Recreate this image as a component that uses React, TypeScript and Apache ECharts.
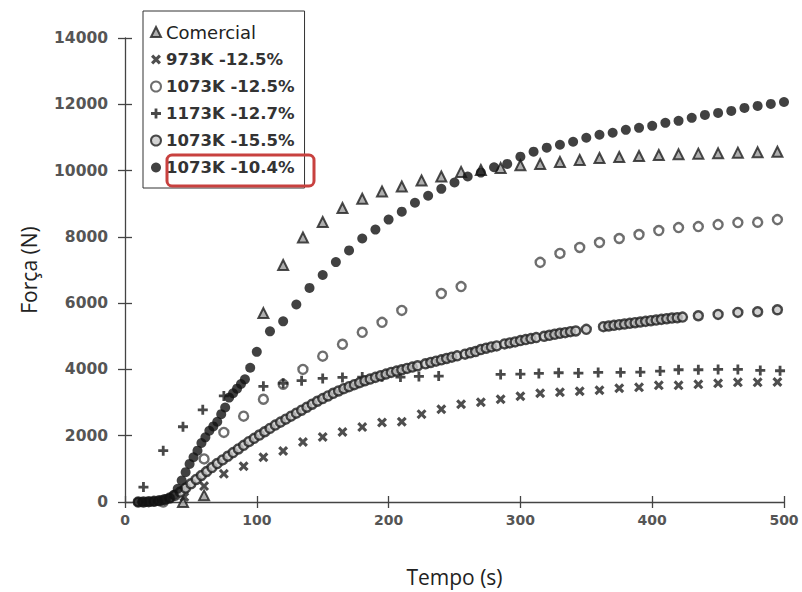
import React, { useEffect, useRef } from "react";
import * as echarts from "echarts";

const seriesNames = [
  "Comercial",
  "973K -12.5%",
  "1073K -12.5%",
  "1173K -12.7%",
  "1073K -15.5%",
  "1073K -10.4%",
];

const xTicks = { min: 0, max: 500, interval: 100 };
const yTicks = { min: 0, max: 14000, interval: 2000 };

const comercial: number[][] = [
  [44, 0], [60, 200], [105, 5700], [120, 7150], [135, 7980], [150, 8450], [165, 8870],
  [180, 9150], [195, 9370], [210, 9520], [225, 9700], [240, 9820], [255, 9960],
  [270, 10020], [285, 10080], [300, 10160], [315, 10200], [330, 10260], [345, 10320],
  [360, 10380], [375, 10410], [390, 10440], [405, 10470], [420, 10490], [435, 10510],
  [450, 10520], [465, 10540], [480, 10550], [495, 10570],
];

const k973_125: number[][] = [
  [45, 150], [60, 480], [75, 850], [90, 1080], [105, 1350], [120, 1540], [135, 1810],
  [150, 1960], [165, 2110], [180, 2260], [195, 2400], [210, 2420], [225, 2650],
  [240, 2800], [255, 2950], [270, 3010], [285, 3100], [300, 3190], [315, 3280],
  [330, 3310], [345, 3340], [360, 3370], [375, 3430], [390, 3460], [405, 3520],
  [420, 3520], [435, 3550], [450, 3580], [465, 3610], [480, 3610], [495, 3620],
];

const k1073_125: number[][] = [
  [29, 0], [44, 330], [60, 1300], [75, 2100], [90, 2590], [105, 3100], [120, 3550],
  [135, 4000], [150, 4400], [165, 4760], [180, 5120], [195, 5420], [210, 5780],
  [240, 6290], [255, 6500], [315, 7230], [330, 7500], [345, 7680], [360, 7830],
  [375, 7950], [390, 8070], [405, 8190], [420, 8280], [435, 8310], [450, 8370],
  [465, 8430], [480, 8440], [495, 8520],
];

const k1173_127: number[][] = [
  [14, 450], [29, 1550], [44, 2270], [59, 2780], [75, 3200], [105, 3490], [120, 3580],
  [134, 3660], [150, 3730], [165, 3760], [180, 3770], [195, 3780], [209, 3770],
  [223, 3790], [238, 3800], [285, 3850], [300, 3860], [314, 3880], [329, 3900],
  [344, 3890], [359, 3910], [376, 3910], [391, 3920], [406, 3950], [420, 3990],
  [435, 3990], [450, 4000], [465, 4000], [482, 3970], [497, 3960],
];

const k1073_155: number[][] = [
  [10, 0], [14, 0], [18, 10], [22, 20], [26, 40], [30, 70], [34, 120], [38, 200],
  [42, 300], [46, 420], [50, 550], [54, 680], [58, 800], [62, 920], [66, 1040],
  [70, 1160], [74, 1270], [78, 1380], [82, 1490], [86, 1600], [90, 1710], [94, 1820],
  [98, 1920], [102, 2020], [106, 2120], [110, 2220], [114, 2320], [118, 2410],
  [122, 2500], [126, 2590], [130, 2680], [134, 2770], [138, 2860], [142, 2950],
  [146, 3040], [150, 3120], [154, 3200], [158, 3280], [162, 3350], [166, 3420],
  [170, 3480], [174, 3540], [178, 3600], [182, 3660], [186, 3710], [190, 3760],
  [194, 3810], [198, 3860], [202, 3910], [206, 3950], [210, 3990], [214, 4030],
  [218, 4070], [222, 4110], [228, 4170], [232, 4210], [236, 4250], [240, 4290],
  [244, 4330], [248, 4370], [252, 4410], [258, 4460], [262, 4500], [266, 4540],
  [270, 4600], [274, 4640], [278, 4680], [282, 4710], [288, 4770], [292, 4800],
  [296, 4830], [300, 4870], [304, 4900], [308, 4930], [312, 4960], [318, 5000],
  [322, 5030], [326, 5060], [330, 5090], [334, 5110], [338, 5140], [342, 5160],
  [350, 5210], [363, 5290], [367, 5310], [371, 5330], [375, 5350], [379, 5370],
  [383, 5390], [387, 5410], [391, 5430], [395, 5450], [399, 5470], [403, 5490],
  [407, 5510], [411, 5530], [415, 5550], [419, 5560], [423, 5580], [435, 5620],
  [450, 5660], [465, 5720], [480, 5740], [495, 5800],
];

const k1073_104: number[][] = [
  [10, 0], [13, 0], [16, 0], [19, 10], [22, 20], [25, 30], [28, 50], [31, 80],
  [34, 120], [37, 220], [40, 400], [43, 650], [46, 900], [49, 1150], [52, 1350],
  [55, 1550], [58, 1780], [61, 1950], [64, 2150], [67, 2280], [70, 2420], [73, 2650],
  [76, 2850], [79, 3150], [82, 3280], [85, 3420], [88, 3560], [91, 3700], [95, 4050],
  [100, 4530], [110, 5150], [120, 5450], [130, 5960], [140, 6460], [150, 6850],
  [160, 7240], [170, 7590], [180, 7950], [190, 8220], [200, 8520], [210, 8760],
  [220, 9030], [230, 9240], [240, 9450], [250, 9640], [260, 9820], [270, 9940],
  [280, 10100], [290, 10200], [300, 10420], [310, 10570], [320, 10690], [330, 10780],
  [340, 10870], [350, 10990], [360, 11080], [370, 11140], [380, 11230], [390, 11290],
  [400, 11350], [410, 11440], [420, 11500], [430, 11590], [440, 11680], [450, 11740],
  [460, 11800], [470, 11890], [480, 11950], [490, 12010], [500, 12070],
];

const X_SYMBOL =
  "path://M0,2.2 L2.2,0 L5,2.8 L7.8,0 L10,2.2 L7.2,5 L10,7.8 L7.8,10 L5,7.2 L2.2,10 L0,7.8 L2.8,5 Z";
const PLUS_SYMBOL = "path://M3.6,0 H6.4 V3.6 H10 V6.4 H6.4 V10 H3.6 V6.4 H0 V3.6 H3.6 Z";

export default function App() {
  const ref = useRef<HTMLDivElement>(null);

  useEffect(() => {
    if (!ref.current) return;
    const chart = echarts.init(ref.current, null, { renderer: "svg" });

    const axisLineStyle = { color: "#444", width: 1.3 };
    const labelFont = { fontFamily: "DejaVu Sans", fontWeight: "bold" as const, color: "#555" };
    const plain = (v: number) => String(v);

    const option: any = {
      animation: false,
      backgroundColor: "#fff",
      grid: { left: 125, right: 18, top: 38, bottom: 89, containLabel: false },
      xAxis: [
        {
          type: "value",
          min: xTicks.min,
          max: xTicks.max,
          interval: xTicks.interval,
          splitLine: { show: false },
          axisLine: { show: true, onZero: false, lineStyle: axisLineStyle },
          axisTick: { show: true, inside: false, length: 6, lineStyle: axisLineStyle },
          axisLabel: { ...labelFont, fontSize: 14, margin: 11, formatter: plain },
          name: "Tempo (s)",
          nameLocation: "middle",
          nameGap: 64,
          nameTextStyle: { fontFamily: "Open Sans", fontSize: 21, color: "#222" },
        },
        {
          type: "value",
          position: "bottom",
          min: xTicks.min,
          max: xTicks.max,
          interval: xTicks.interval,
          splitLine: { show: false },
          axisLine: { show: false },
          axisTick: { show: true, inside: true, length: 6, lineStyle: axisLineStyle },
          axisLabel: { show: false },
        },
      ],
      yAxis: [
        {
          type: "value",
          min: yTicks.min,
          max: yTicks.max,
          interval: yTicks.interval,
          splitLine: { show: false },
          axisLine: { show: true, onZero: false, lineStyle: axisLineStyle },
          axisTick: { show: true, inside: false, length: 7, lineStyle: axisLineStyle },
          axisLabel: { ...labelFont, fontSize: 15.5, margin: 17, formatter: plain },
          name: "Força (N)",
          nameLocation: "middle",
          nameGap: 86,
          nameRotate: 90,
          nameTextStyle: { fontFamily: "Open Sans", fontSize: 21, color: "#222" },
        },
        {
          type: "value",
          position: "left",
          min: yTicks.min,
          max: yTicks.max,
          interval: yTicks.interval,
          splitLine: { show: false },
          axisLine: { show: false },
          axisTick: { show: true, inside: true, length: 7, lineStyle: axisLineStyle },
          axisLabel: { show: false },
        },
      ],
      legend: {
        orient: "vertical",
        left: 143,
        top: 11,
        padding: [12, 10, 12, 7],
        itemGap: 10,
        itemWidth: 10,
        itemHeight: 10,
        selectedMode: false,
        backgroundColor: "#fff",
        borderColor: "#333",
        borderWidth: 1,
        data: seriesNames,
        formatter: (name: string) => (name === "Comercial" ? "{a|" + name + "}" : "{b|" + name + "}"),
        textStyle: {
          color: "#222",
          rich: {
            a: { fontFamily: "DejaVu Sans", fontSize: 18, color: "#222", lineHeight: 18 },
            b: { fontFamily: "DejaVu Sans", fontSize: 16.5, fontWeight: "bold", color: "#333", lineHeight: 18 },
          },
        },
      },
      graphic: [
        {
          type: "rect",
          z: 100,
          shape: { x: 167, y: 155, width: 147, height: 31, r: 5 },
          style: { fill: "none", stroke: "#c8413f", lineWidth: 3 },
        },
      ],
      series: [
        {
          name: seriesNames[0],
          type: "scatter",
          data: comercial,
          symbol: "triangle",
          symbolSize: 10,
          itemStyle: { color: "#9a9a9a", borderColor: "#1e1e1e", borderWidth: 2 },
        },
        {
          name: seriesNames[1],
          type: "scatter",
          data: k973_125,
          symbol: X_SYMBOL,
          symbolSize: 10,
          itemStyle: { color: "#222" },
        },
        {
          name: seriesNames[2],
          type: "scatter",
          data: k1073_125,
          symbol: "circle",
          symbolSize: 9,
          itemStyle: { color: "#fff", borderColor: "#4a4a4a", borderWidth: 2.4 },
        },
        {
          name: seriesNames[3],
          type: "scatter",
          data: k1173_127,
          symbol: PLUS_SYMBOL,
          symbolSize: 10,
          itemStyle: { color: "#1a1a1a" },
        },
        {
          name: seriesNames[4],
          type: "scatter",
          data: k1073_155,
          symbol: "circle",
          symbolSize: 9,
          itemStyle: { color: "#c8c8c8", borderColor: "#1e1e1e", borderWidth: 2.4 },
        },
        {
          name: seriesNames[5],
          type: "scatter",
          data: k1073_104,
          symbol: "circle",
          symbolSize: 10,
          itemStyle: { color: "#111" },
        },
      ],
    };

    chart.setOption(option);
    return () => chart.dispose();
  }, []);

  return (
    <div
      ref={ref}
      style={{ position: "fixed", left: 0, top: 0, width: 802, height: 592, background: "#fff" }}
    />
  );
}
